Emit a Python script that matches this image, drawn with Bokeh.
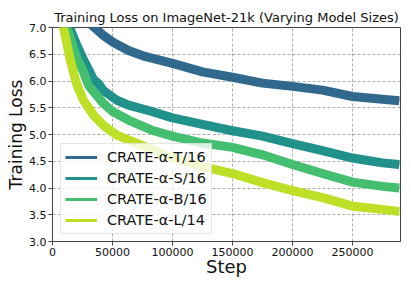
from bokeh.plotting import figure
from bokeh.models import Range1d, FixedTicker, Legend, LegendItem
from bokeh.embed import file_html
from bokeh.resources import INLINE

title = "Training Loss on ImageNet-21k (Varying Model Sizes)"
series_names = ["CRATE-α-T/16", "CRATE-α-S/16", "CRATE-α-B/16", "CRATE-α-L/14"]
colors = ["#31688e", "#21918c", "#44bf70", "#bddf26"]

t_steps = [0, 10000, 20000, 30000, 42500, 50000, 63300, 77000, 100000, 125000,
           150000, 175000, 200000, 225000, 250000, 275000, 289000]
t_loss = [9.6, 8.3, 7.5, 7.1, 6.85, 6.73, 6.57, 6.46, 6.33, 6.17,
          6.07, 5.96, 5.90, 5.83, 5.71, 5.66, 5.63]

s_steps = [0, 5000, 10000, 14200, 20300, 25800, 30000, 34200, 38300, 42500, 50000,
           53600, 63300, 82800, 100000, 125000, 150000, 175000, 200000, 225000,
           250000, 275000, 289000]
s_loss = [9.6, 8.2, 7.4, 7.0, 6.67, 6.40, 6.22, 6.03, 5.95, 5.82, 5.70,
          5.64, 5.55, 5.43, 5.31, 5.19, 5.07, 4.97, 4.83, 4.70,
          4.56, 4.47, 4.44]

b_steps = [0, 5000, 10000, 12000, 20300, 25800, 30000, 34200, 42500, 50000, 63300,
           82800, 100000, 125000, 150000, 175000, 200000, 225000, 250000, 275000, 289000]
b_loss = [9.5, 7.9, 7.2, 7.0, 6.43, 6.17, 5.92, 5.80, 5.58, 5.43, 5.27,
          5.08, 4.97, 4.84, 4.76, 4.62, 4.44, 4.27, 4.11, 4.03, 4.00]

l_steps = [0, 5000, 9200, 14700, 20300, 25800, 34200, 42500, 53600, 63300, 82800,
           100000, 125000, 150000, 175000, 200000, 225000, 250000, 275000, 289000]
l_loss = [9.4, 7.7, 7.0, 6.40, 5.93, 5.64, 5.36, 5.17, 4.99, 4.90, 4.72,
          4.56, 4.40, 4.27, 4.10, 3.95, 3.82, 3.66, 3.60, 3.56]

x_ticks = [0, 50000, 100000, 150000, 200000, 250000]
x_tick_labels = ["0", "50000", "100000", "150000", "200000", "250000"]
y_ticks = [3.0, 3.5, 4.0, 4.5, 5.0, 5.5, 6.0, 6.5, 7.0]
y_tick_labels = ["3.0", "3.5", "4.0", "4.5", "5.0", "5.5", "6.0", "6.5", "7.0"]

FONT = "DejaVu Sans"

p = figure(width=411, height=288, output_backend="svg", toolbar_location=None,
           x_range=Range1d(0, 290000), y_range=Range1d(3, 7),
           min_border_left=52, min_border_right=11, min_border_top=27,
           min_border_bottom=47)
p.background_fill_color = "white"
p.border_fill_color = "white"
p.outline_line_color = "#444444"
p.outline_line_width = 1

p.title.text = title
p.title.text_font = FONT
p.title.text_font_size = "13px"
p.title.text_font_style = "normal"
p.title.text_color = "#111111"
p.title.align = "center"
p.title.standoff = 6

for ax, ticks, labels in ((p.xaxis, x_ticks, x_tick_labels), (p.yaxis, y_ticks, y_tick_labels)):
    ax.ticker = FixedTicker(ticks=ticks)
    ax.major_label_overrides = {t: l for t, l in zip(ticks, labels)}
    ax.major_label_text_font = FONT
    ax.major_label_text_font_size = "11px"
    ax.major_label_text_color = "#111111"
    ax.axis_label_text_font = FONT
    ax.axis_label_text_font_style = "normal"
    ax.axis_label_text_color = "#111111"
    ax.axis_line_color = "#444444"
    ax.major_tick_line_color = "#444444"
    ax.major_tick_out = 4
    ax.major_tick_in = 0
    ax.minor_tick_line_color = None
    ax.major_label_standoff = 2

p.xaxis.axis_label = "Step"
p.xaxis.axis_label_text_font_size = "18px"
p.xaxis.axis_label_standoff = -3
p.yaxis.axis_label = "Training Loss"
p.yaxis.axis_label_text_font_size = "17px"
p.yaxis.axis_label_standoff = 0

for g in (p.xgrid, p.ygrid):
    g.grid_line_color = "#999999"
    g.grid_line_alpha = 0.8
    g.grid_line_dash = "3 2"
    g.grid_line_width = 1

data = [(t_steps, t_loss), (s_steps, s_loss), (b_steps, b_loss), (l_steps, l_loss)]
items = []
for (xs, ys), c, name in zip(data, colors, series_names):
    leg_r = p.line(xs, ys, line_color=c, line_width=3)
    p.line(xs, ys, line_color=c, line_width=9, line_join="round")
    items.append(LegendItem(label=name, renderers=[leg_r]))

legend = Legend(items=items, location=(8, 7), label_text_font=FONT,
                label_text_font_size="14.5px", label_text_color="#111111",
                glyph_width=32, glyph_height=18, label_height=18, spacing=3,
                padding=4, margin=0, label_standoff=10,
                background_fill_color="white", background_fill_alpha=0.8,
                border_line_color="#cccccc", border_line_width=1)
p.add_layout(legend)

open("out.html", "w").write(file_html(p, INLINE))
